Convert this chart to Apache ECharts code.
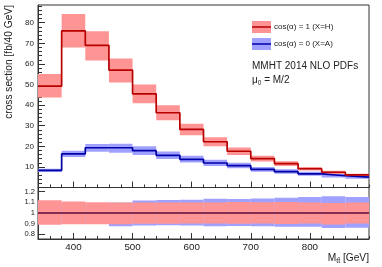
<!DOCTYPE html>
<html><head><meta charset="utf-8">
<script src="https://cdn.jsdelivr.net/npm/echarts@6/dist/echarts.min.js"></script>
<style>html,body{margin:0;padding:0;background:#fff}#c{width:382px;height:267px}</style>
</head><body><div id="c"></div>
<script>
// bin edges (GeV)
const binEdges = [340,380,420,460,500,540,580,620,660,700,740,780,820,860,900];
// cos(alpha)=1 (X=H)
const hCentral = [49.2,76.0,69.0,57.0,45.5,36.3,28.2,22.2,17.6,14.0,11.6,9.1,7.4,6.1];
const hUp      = [55.1,84.2,75.9,62.6,50.0,39.9,31.0,24.4,19.4,15.4,12.8,10.0,8.1,6.7];
const hDown    = [43.7,68.0,61.6,51.0,40.9,32.6,25.4,20.0,15.8,12.6,10.4,8.2,6.6,5.5];
// cos(alpha)=0 (X=A)
const aCentral = [8.3,16.3,19.3,19.3,17.9,15.6,13.7,11.9,10.6,8.8,7.7,6.6,5.7,5.0];
const aUp      = [9.05,17.8,21.1,21.2,20.0,17.5,15.4,13.5,12.0,10.0,8.8,7.6,6.6,5.75];
const aDown    = [7.55,14.8,17.4,16.9,15.8,13.8,12.1,10.4,9.3,7.7,6.7,5.75,4.9,4.3];
// tick labels
const xLabels = [400,500,600,700,800];
const yLabels = [10,20,30,40,50,60,70,80];
const rLabels = [0.8,0.9,1,1.1,1.2];

const FONT = 'Liberation Sans';
const redFill = '#ff9494', blueFill = '#a0a0ff';
const redLine = '#b80000', blueLine = '#0000a8';

function bandData(up, down, central) {
  return up.map((u,i)=>[binEdges[i], binEdges[i+1], central ? down[i]/central[i] : down[i], central ? u/central[i] : u]);
}
function stepData(vals) {
  const d = vals.map((v,i)=>[binEdges[i], v]);
  d.push([binEdges[binEdges.length-1], vals[vals.length-1]]);
  return d;
}
function bandSeries(data, color, xi, yi) {
  return {
    type:'custom', xAxisIndex:xi, yAxisIndex:yi, clip:true, silent:true,
    data: data, encode:{x:[0,1], y:[2,3]},
    renderItem: function(params, api){
      const p0 = api.coord([api.value(0), api.value(3)]);
      const p1 = api.coord([api.value(1), api.value(2)]);
      return {type:'rect', shape:{x:p0[0], y:p0[1], width:p1[0]-p0[0], height:p1[1]-p0[1]},
              style:{fill:color}};
    }
  };
}
function lineSeries(data, color, xi, yi, w) {
  return {type:'line', xAxisIndex:xi, yAxisIndex:yi, step:'end', symbol:'none', silent:true,
          data:data, lineStyle:{color:color, width:w||1.7}, z:3};
}

const axisLineStyle = {lineStyle:{color:'#333', width:1}};
const chart = echarts.init(document.getElementById('c'), null, {renderer:'canvas'});
chart.setOption({
  animation:false,
  textStyle:{fontFamily:FONT},
  grid:[
    {left:38, right:13, top:5, height:182.5, show:true, borderColor:'#333', borderWidth:1, backgroundColor:'transparent'},
    {left:38, right:13, top:187.5, height:51.5, show:true, borderColor:'#333', borderWidth:1, backgroundColor:'transparent'}
  ],
  xAxis:[
    {type:'value', gridIndex:0, min:340, max:900, interval:20, position:'bottom',
     axisLine:axisLineStyle, axisTick:{inside:true, length:3, lineStyle:{color:'#333'}},
     axisLabel:{show:false}, splitLine:{show:false}},
    {type:'value', gridIndex:0, min:340, max:900, position:'bottom',
     axisLine:{show:false}, axisTick:{inside:true, length:6, customValues:xLabels, lineStyle:{color:'#333'}},
     axisLabel:{show:false}, splitLine:{show:false}},
    {type:'value', gridIndex:1, min:340, max:900, interval:20, position:'bottom',
     axisLine:axisLineStyle, axisTick:{inside:true, length:3, lineStyle:{color:'#333'}},
     axisLabel:{show:true, customValues:xLabels, fontSize:9.8, color:'#222', margin:3, fontFamily:FONT},
     splitLine:{show:false}},
    {type:'value', gridIndex:1, min:340, max:900, position:'bottom',
     axisLine:{show:false}, axisTick:{inside:true, length:6, customValues:xLabels, lineStyle:{color:'#333'}},
     axisLabel:{show:false}, splitLine:{show:false}}
  ],
  yAxis:[
    {type:'value', gridIndex:0, min:0, max:88.6, interval:10,
     axisLine:axisLineStyle, axisTick:{inside:true, length:7, customValues:yLabels, lineStyle:{color:'#333'}},
     minorTick:{show:true, splitNumber:5, length:4, lineStyle:{color:'#333'}},
     axisLabel:{customValues:yLabels, fontSize:8, color:'#222', margin:4, fontFamily:FONT},
     splitLine:{show:false}, minorSplitLine:{show:false}},
    {type:'value', gridIndex:1, min:0.755, max:1.24,
     axisLine:axisLineStyle, axisTick:{inside:true, length:7, customValues:rLabels, lineStyle:{color:'#333'}},
     axisLabel:{customValues:rLabels, fontSize:7.6, color:'#222', margin:3, fontFamily:FONT,
       formatter:v=>String(Math.round(v*10)/10)},
     splitLine:{show:false}}
  ],
  series:[
    bandSeries(bandData(aUp,aDown), blueFill, 0, 0),
    bandSeries(bandData(hUp,hDown), redFill, 0, 0),
    lineSeries(stepData(aCentral), blueLine, 0, 0),
    lineSeries(stepData(hCentral), redLine, 0, 0),
    bandSeries(bandData(aUp,aDown,aCentral), blueFill, 2, 1),
    bandSeries(bandData(hUp,hDown,hCentral), redFill, 2, 1),
    lineSeries(stepData(aCentral.map((v,i)=>v/aCentral[i])), '#3a1a6a', 2, 1, 1.6),
    lineSeries(stepData(hCentral.map((v,i)=>v/hCentral[i])), 'rgba(150,40,50,0.75)', 2, 1, 1.6)
  ],
  graphic:[
    {type:'rect', shape:{x:252, y:21, width:19, height:12}, style:{fill:redFill}},
    {type:'line', shape:{x1:252, y1:27, x2:271, y2:27}, style:{stroke:redLine, lineWidth:1.5}},
    {type:'rect', shape:{x:252, y:38, width:19, height:12}, style:{fill:blueFill}},
    {type:'line', shape:{x1:252, y1:44, x2:271, y2:44}, style:{stroke:blueLine, lineWidth:1.5}},
    {type:'text', x:274, y:27, style:{text:'cos(α) = 1 (X=H)', fontSize:8, fontFamily:FONT, fill:'#222', textVerticalAlign:'middle'}},
    {type:'text', x:274, y:44, style:{text:'cos(α) = 0 (X=A)', fontSize:8, fontFamily:FONT, fill:'#222', textVerticalAlign:'middle'}},
    {type:'text', x:252, y:66, style:{text:'MMHT 2014 NLO PDFs', fontSize:10, fontFamily:FONT, fill:'#222', textVerticalAlign:'middle'}},
    {type:'text', x:252, y:80, style:{text:'{a|μ}{s|0}{a| = M/2}', fontFamily:FONT, fill:'#222', textVerticalAlign:'middle',
      rich:{a:{fontSize:10, fontFamily:FONT, fill:'#222'}, s:{fontSize:6.5, fontFamily:FONT, fill:'#222', padding:[6,0,0,0]}}}},
    {type:'text', x:9, y:5, rotation:Math.PI/2, style:{text:'cross section [fb/40 GeV]', fontSize:10.2, fontFamily:FONT, fill:'#222', textAlign:'right', textVerticalAlign:'middle'}},
    {type:'text', x:369, y:258, style:{text:'{a|M}{s|tt̄}{a| [GeV]}', fontFamily:FONT, textAlign:'right', textVerticalAlign:'middle',
      rich:{a:{fontSize:10.2, fontFamily:FONT, fill:'#222'}, s:{fontSize:7, fontFamily:FONT, fill:'#222', padding:[6,0,0,0]}}}}
  ]
});
</script>
</body></html>
